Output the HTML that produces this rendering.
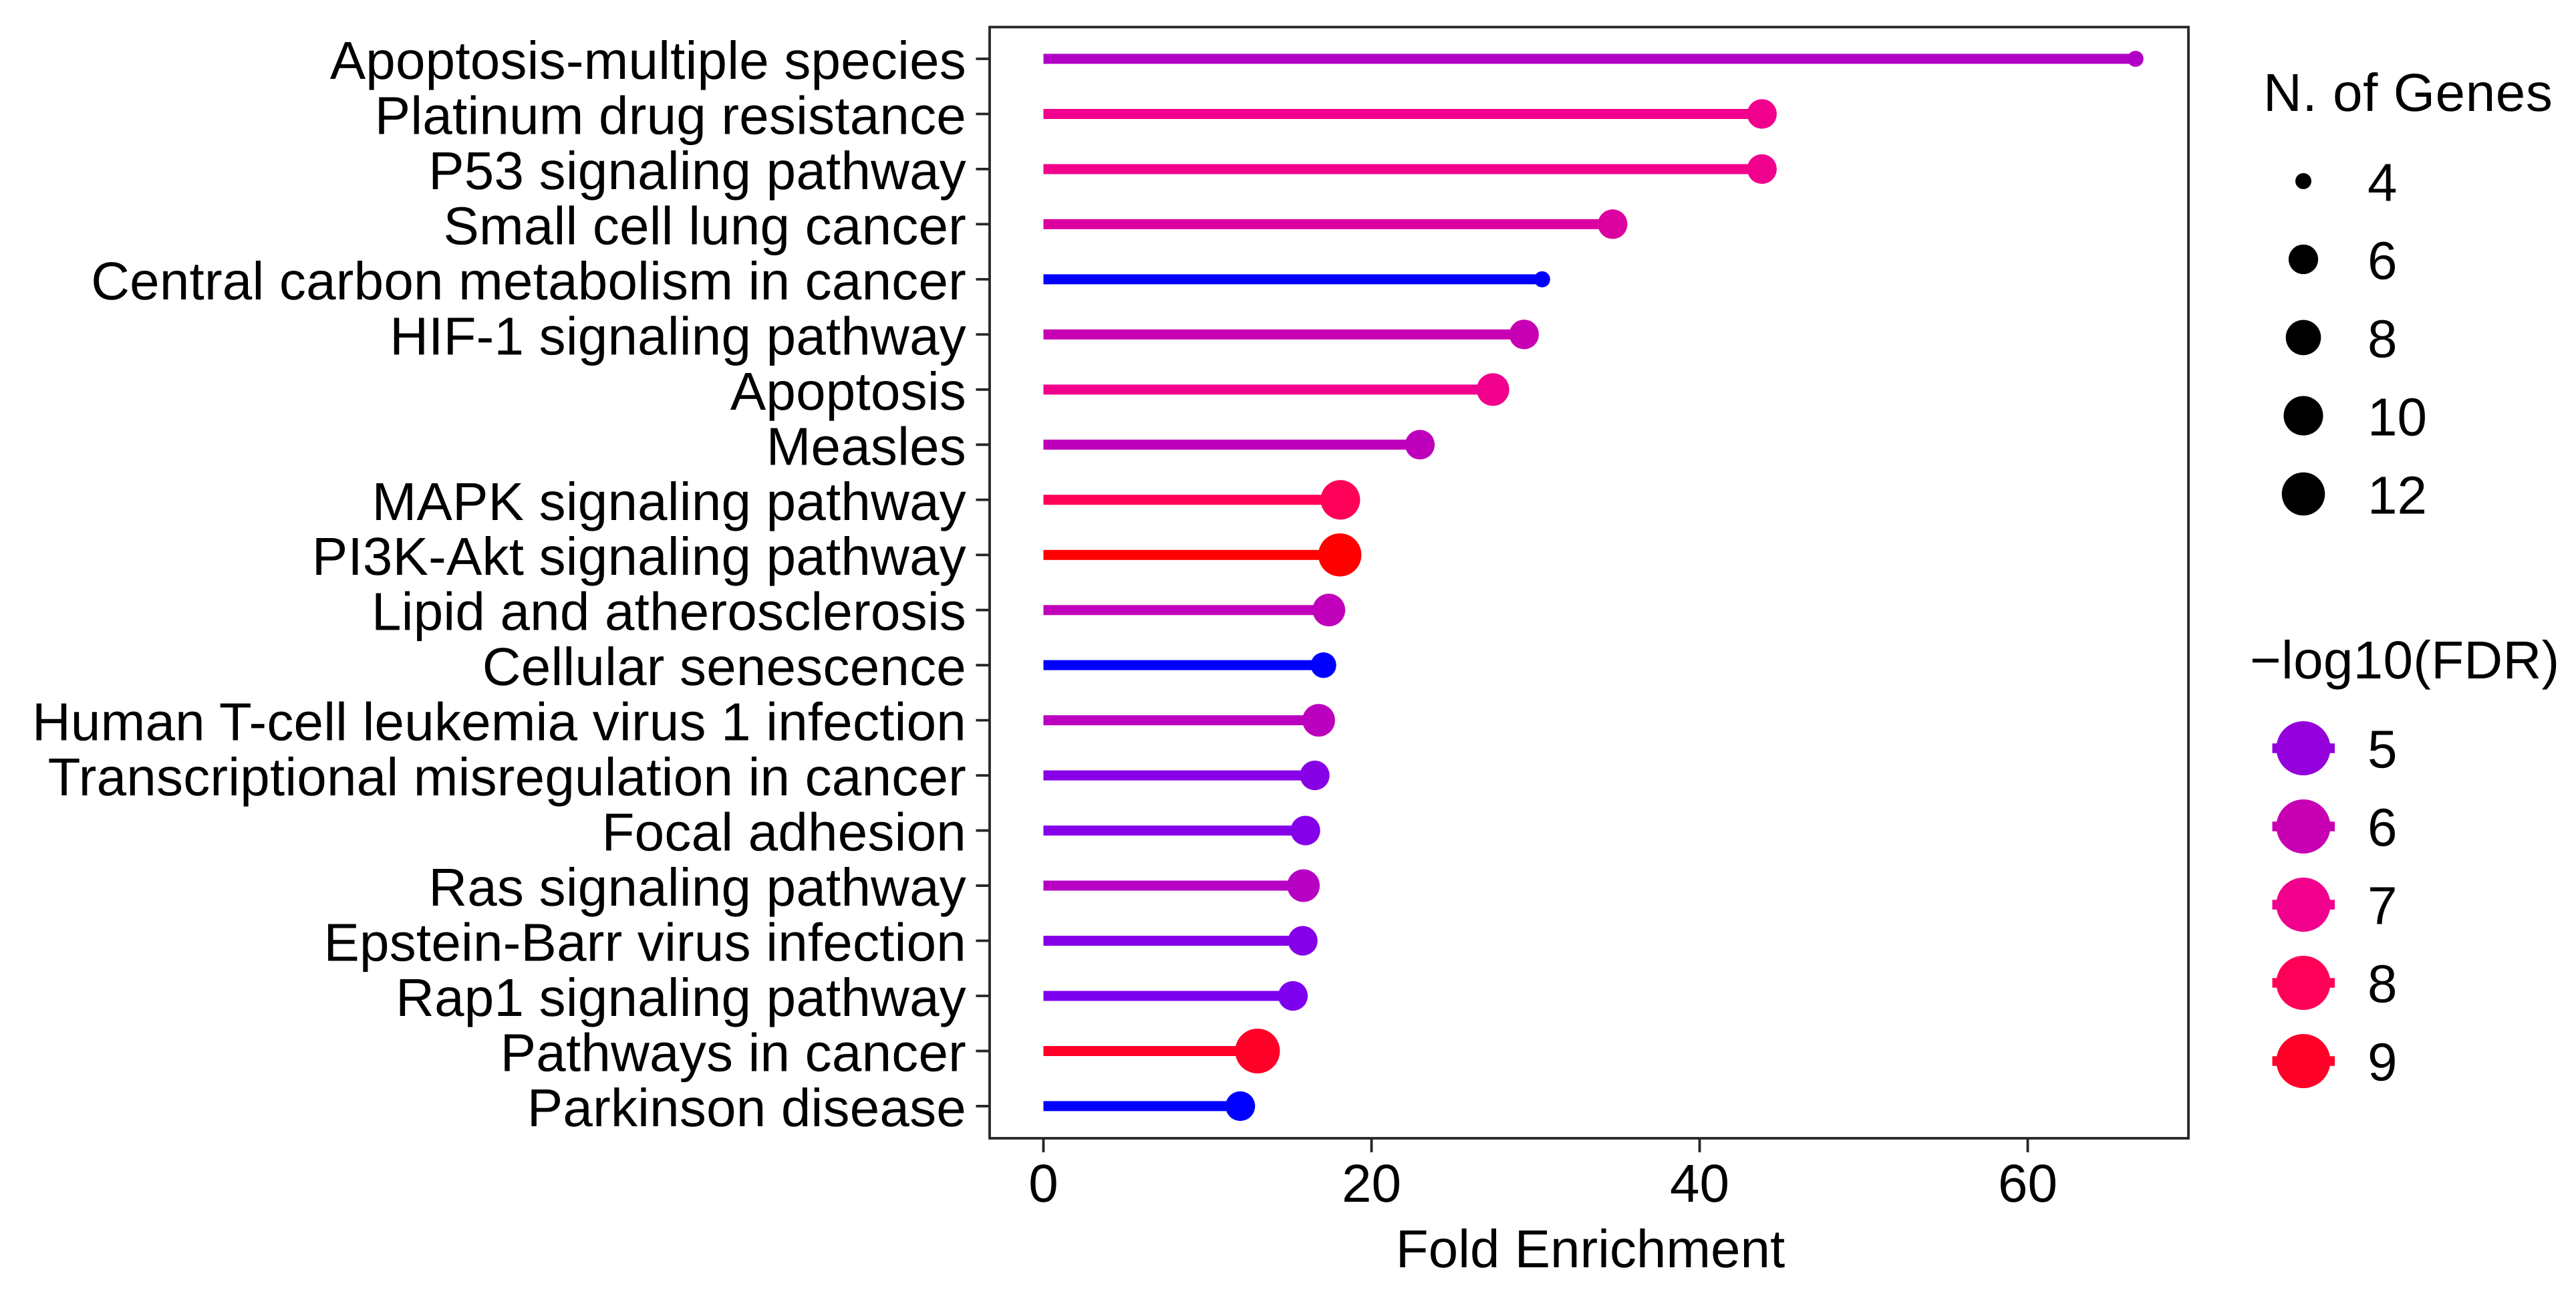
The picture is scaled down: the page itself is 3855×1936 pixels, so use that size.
<!DOCTYPE html>
<html lang="en">
<head>
<meta charset="utf-8">
<title>Fold Enrichment lollipop chart</title>
<style>
  html, body { margin: 0; padding: 0; background: #fff; }
  svg { display: block; }
  text { font-family: "Liberation Sans", Arial, sans-serif; font-size: 80px; fill: #000; text-rendering: geometricPrecision; }
  #yaxis text { letter-spacing: 0.2px; }
</style>
</head>
<body>
<svg id="chart" xmlns="http://www.w3.org/2000/svg" width="3855" height="1936" viewBox="0 0 3855 1936">
  <rect x="0" y="0" width="3855" height="1936" fill="#ffffff"></rect>
  <g id="marks"></g>
  <rect x="1481" y="40.5" width="1794" height="1662.5" fill="none" stroke="#262626" stroke-width="3.8"></rect>
  <g id="yaxis"></g>
  <g id="xaxis"></g>
  <text x="2380" y="1896" text-anchor="middle">Fold Enrichment</text>
  <text x="3387" y="166" style="letter-spacing:0.6px">N. of Genes</text>
  <g id="sizeLegend"></g>
  <text x="3367" y="1015" style="letter-spacing:0.3px">−log10(FDR)</text>
  <g id="colorLegend"></g>
</svg>
<script>
const categories = [
  "Apoptosis-multiple species", "Platinum drug resistance", "P53 signaling pathway",
  "Small cell lung cancer", "Central carbon metabolism in cancer", "HIF-1 signaling pathway",
  "Apoptosis", "Measles", "MAPK signaling pathway", "PI3K-Akt signaling pathway",
  "Lipid and atherosclerosis", "Cellular senescence", "Human T-cell leukemia virus 1 infection",
  "Transcriptional misregulation in cancer", "Focal adhesion", "Ras signaling pathway",
  "Epstein-Barr virus infection", "Rap1 signaling pathway", "Pathways in cancer", "Parkinson disease"
];
const foldEnrichment = [66.57, 43.8, 43.8, 34.7, 30.4, 29.3, 27.4, 22.95, 18.1, 18.07, 17.4, 17.07, 16.78, 16.54, 15.97, 15.85, 15.81, 15.21, 13.05, 12.0];
const geneCounts = [4, 6, 6, 6, 4, 6, 7, 6, 10, 12, 7, 5, 7, 6, 6, 7, 6, 6, 13, 6];
const minusLogFdr = [5.55, 7.0, 7.0, 6.5, 4.0, 6.0, 7.0, 5.8, 8.0, 9.4, 5.85, 4.0, 5.75, 4.85, 4.8, 5.65, 4.8, 4.7, 9.0, 4.0];
const xTicks = [0, 20, 40, 60];
const sizeLegendValues = [4, 6, 8, 10, 12];
const colorLegendValues = [5, 6, 7, 8, 9];

const NS = "http://www.w3.org/2000/svg";
function xScale(v) { return 1561.5 + v * 24.55; }
function yScale(i) { return 88 + i * 82.47; }
function sizeScale(n) { return 24 + 43 * Math.sqrt((n - 4) / 9); }
function colorScale(v) {
  const d = [4, 4.2, 4.7, 5, 6, 7, 8, 9, 9.4];
  const r = [0, 70, 125, 148, 200, 240, 255, 255, 255];
  const b = [255, 250, 238, 220, 180, 140, 88, 40, 0];
  let k = 0;
  while (k < d.length - 2 && v > d[k + 1]) k++;
  const t = Math.max(0, Math.min(1, (v - d[k]) / (d[k + 1] - d[k])));
  return "rgb(" + Math.round(r[k] + (r[k + 1] - r[k]) * t) + ",0," + Math.round(b[k] + (b[k + 1] - b[k]) * t) + ")";
}
function make(tag, attrs, parent, txt) {
  const el = document.createElementNS(NS, tag);
  for (const key in attrs) el.setAttribute(key, attrs[key]);
  if (txt !== undefined) el.textContent = txt;
  parent.appendChild(el);
  return el;
}

const marks = document.getElementById("marks");
const yaxis = document.getElementById("yaxis");
const xaxis = document.getElementById("xaxis");
const sizeLegend = document.getElementById("sizeLegend");
const colorLegend = document.getElementById("colorLegend");

categories.forEach(function (name, i) {
  const y = yScale(i);
  const c = colorScale(minusLogFdr[i]);
  const stem = make("line", { x1: xScale(0), x2: xScale(foldEnrichment[i]), y1: y, y2: y, stroke: c, "stroke-width": 15 }, marks);
  
  
  const dot = make("circle", { cx: xScale(foldEnrichment[i]), cy: y, r: sizeScale(geneCounts[i]) / 2, fill: c }, marks);
  
  
  const tick = make("line", { x1: 1460.5, x2: 1481, y1: y, y2: y, stroke: "#262626", "stroke-width": 3.8 }, yaxis);
  
  
  const label = make("text", { x: 1446, y: y + 30, "text-anchor": "end" }, yaxis, name);
  
  
});

xTicks.forEach(function (v) {
  const x = xScale(v);
  const tick = make("line", { x1: x, x2: x, y1: 1703, y2: 1724, stroke: "#262626", "stroke-width": 3.8 }, xaxis);
  
  
  const label = make("text", { x: x, y: 1798, "text-anchor": "middle" }, xaxis, String(v));
  
  
});

sizeLegendValues.forEach(function (n, i) {
  const y = 271 + i * 117;
  const key = make("circle", { cx: 3447, cy: y, r: sizeScale(n) / 2, fill: "#000" }, sizeLegend);
  
  
  const label = make("text", { x: 3543, y: y + 29.5 }, sizeLegend, String(n));
  
  
});

colorLegendValues.forEach(function (v, i) {
  const y = 1119.5 + i * 117;
  const c = colorScale(v);
  const stem = make("line", { x1: 3400.5, x2: 3494, y1: y, y2: y, stroke: c, "stroke-width": 14.5 }, colorLegend);
  
  
  const key = make("circle", { cx: 3447, cy: y, r: 40.5, fill: c }, colorLegend);
  
  
  const label = make("text", { x: 3543, y: y + 29 }, colorLegend, String(v));
  
  
});
</script>
</body>
</html>
